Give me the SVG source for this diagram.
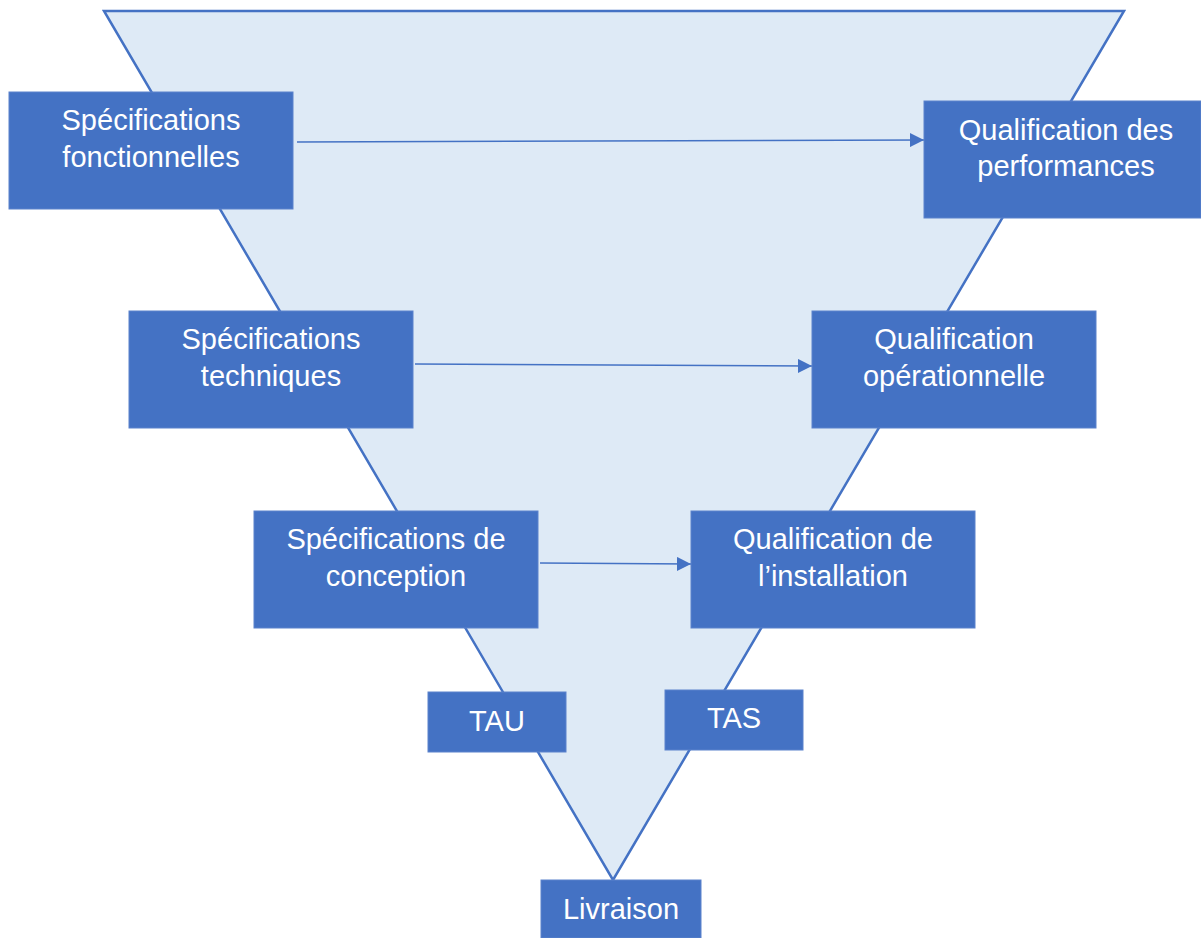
<svg xmlns="http://www.w3.org/2000/svg" width="1201" height="938" viewBox="0 0 1201 938">
<style>
.box{fill:#4472C4;stroke:#5B82CC;stroke-width:1}
.t{fill:#FFFFFF;font-family:"Liberation Sans",Arial,sans-serif;font-size:29px;text-anchor:middle}
.c{stroke:#4472C4;stroke-width:1.5;fill:none}
</style>
<defs>
<marker id="ah" markerWidth="14" markerHeight="14" refX="14" refY="7" orient="auto" markerUnits="userSpaceOnUse">
<path d="M0,0 L14,7 L0,14 Z" fill="#4472C4"/>
</marker>
</defs>
<rect width="1201" height="938" fill="#FFFFFF"/>
<g id="funnel">
<polygon points="104,11 1124,11 613,880" fill="#DEEAF6" stroke="#4472C4" stroke-width="2.5" stroke-linejoin="miter"/>
</g>
<g id="connectors">
<line class="c" x1="297" y1="142" x2="924" y2="140" marker-end="url(#ah)"/>
<line class="c" x1="415" y1="364" x2="812" y2="366" marker-end="url(#ah)"/>
<line class="c" x1="540" y1="563" x2="691" y2="564" marker-end="url(#ah)"/>
</g>
<g id="spec-fonctionnelles">
<rect class="box" x="9" y="92" width="284" height="117"/>
<text class="t" x="151" y="130">Spécifications</text>
<text class="t" x="151" y="167">fonctionnelles</text>
</g>
<g id="qual-performances">
<rect class="box" x="924" y="101" width="277" height="117"/>
<text class="t" x="1066" y="140">Qualification des</text>
<text class="t" x="1066" y="176">performances</text>
</g>
<g id="spec-techniques">
<rect class="box" x="129" y="311" width="284" height="117"/>
<text class="t" x="271" y="349">Spécifications</text>
<text class="t" x="271" y="386">techniques</text>
</g>
<g id="qual-operationnelle">
<rect class="box" x="812" y="311" width="284" height="117"/>
<text class="t" x="954" y="349">Qualification</text>
<text class="t" x="954" y="386">opérationnelle</text>
</g>
<g id="spec-conception">
<rect class="box" x="254" y="511" width="284" height="117"/>
<text class="t" x="396" y="549">Spécifications de</text>
<text class="t" x="396" y="586">conception</text>
</g>
<g id="qual-installation">
<rect class="box" x="691" y="511" width="284" height="117"/>
<text class="t" x="833" y="549">Qualification de</text>
<text class="t" x="833" y="586">l’installation</text>
</g>
<g id="tau">
<rect class="box" x="428" y="692" width="138" height="60"/>
<text class="t" x="497" y="731">TAU</text>
</g>
<g id="tas">
<rect class="box" x="665" y="690" width="138" height="60"/>
<text class="t" x="734" y="728">TAS</text>
</g>
<g id="livraison">
<rect class="box" x="541" y="880" width="160" height="58"/>
<text class="t" x="621" y="919">Livraison</text>
</g>
</svg>
